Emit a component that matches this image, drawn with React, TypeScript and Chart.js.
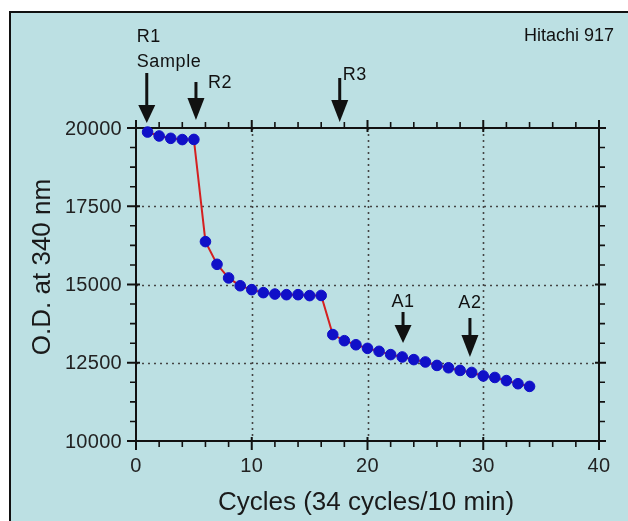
import React, { useEffect, useRef } from "react";
import { Chart, registerables } from "chart.js";

Chart.register(...registerables);

const cycles = [1, 2, 3, 4, 5, 6, 7, 8, 9, 10, 11, 12, 13, 14, 15, 16, 17, 18, 19, 20, 21, 22, 23, 24, 25, 26, 27, 28, 29, 30, 31, 32, 33, 34];
const odValues = [19870, 19745, 19670, 19630, 19635, 16370, 15645, 15210, 14960, 14835, 14740, 14695, 14675, 14675, 14645, 14650, 13400, 13205, 13075, 12960, 12865, 12760, 12685, 12600, 12525, 12415, 12340, 12255, 12190, 12080, 12030, 11930, 11830, 11745];
const xTicks = [0, 10, 20, 30, 40];
const yTicks = [10000, 12500, 15000, 17500, 20000];
const xMinorStep = 2;
const yMinorStep = 625;
const xTitle = "Cycles (34 cycles/10 min)";
const yTitle = "O.D. at 340 nm";
const instrument = "Hitachi 917";
const markerLabels = [["R1", "Sample"], ["R2"], ["R3"], ["A1"], ["A2"]];
const markerCycles = [0.93, 5.18, 17.6, 23.07, 28.85];
const markerTipValues = [20160, 20256, 20192, 13131, 12684];

const FONT = "'Liberation Sans', Arial, sans-serif";
const BG = "#bce0e3";

export default function App() {
  const ref = useRef<HTMLCanvasElement>(null);

  useEffect(() => {
    document.body.style.margin = "0";
    const canvas = ref.current;
    if (!canvas) return;

    const markerStyles = [
      { total: 50, head: 18, width: 17, labelDx: -10, labelDy: [-36, -11], align: "left" },
      { total: 38, head: 22, width: 17, labelDx: 12, labelDy: [1], align: "left" },
      { total: 44, head: 22, width: 17, labelDx: 3, labelDy: [-3], align: "left" },
      { total: 31, head: 18, width: 17, labelDx: 0, labelDy: [-10], align: "center" },
      { total: 39, head: 22, width: 17, labelDx: 0, labelDy: [-15], align: "center" },
    ];

    const deco = {
      id: "deco",
      beforeDraw(chart: any) {
        const ctx = chart.ctx as CanvasRenderingContext2D;
        const w = chart.width, h = chart.height;
        ctx.save();
        ctx.fillStyle = "#ffffff";
        ctx.fillRect(0, 0, w, h);
        ctx.fillStyle = BG;
        ctx.fillRect(10, 12, w - 10, h - 12);
        ctx.strokeStyle = "#111";
        ctx.lineWidth = 2;
        ctx.beginPath();
        ctx.moveTo(10, h);
        ctx.lineTo(10, 12);
        ctx.lineTo(w, 12);
        ctx.stroke();
        ctx.restore();
      },
      beforeDatasetsDraw(chart: any) {
        const ctx = chart.ctx as CanvasRenderingContext2D;
        const xs = chart.scales.x, ys = chart.scales.y;
        const L = xs.getPixelForValue(0), R = xs.getPixelForValue(40);
        const T = ys.getPixelForValue(20000), B = ys.getPixelForValue(10000);
        ctx.save();
        ctx.strokeStyle = "#444";
        ctx.lineWidth = 1.6;
        ctx.setLineDash([2, 4]);
        ctx.beginPath();
        for (const t of xTicks) {
          if (t === 0 || t === 40) continue;
          const px = Math.round(xs.getPixelForValue(t)) + 0.5;
          ctx.moveTo(px, T);
          ctx.lineTo(px, B);
        }
        for (const t of yTicks) {
          if (t === 10000 || t === 20000) continue;
          const py = Math.round(ys.getPixelForValue(t)) + 0.5;
          ctx.moveTo(L, py);
          ctx.lineTo(R, py);
        }
        ctx.stroke();
        ctx.setLineDash([]);
        ctx.strokeStyle = "#111";
        ctx.lineWidth = 2;
        ctx.beginPath();
        ctx.moveTo(L - 9, T); ctx.lineTo(R + 7, T);
        ctx.moveTo(L - 9, B); ctx.lineTo(R + 7, B);
        ctx.moveTo(L, T - 8); ctx.lineTo(L, B + 9);
        ctx.moveTo(R, T - 8); ctx.lineTo(R, B + 9);
        ctx.stroke();
        ctx.beginPath();
        for (const t of xTicks) {
          const px = xs.getPixelForValue(t);
          ctx.moveTo(px, T - 8); ctx.lineTo(px, T + 4);
          ctx.moveTo(px, B - 4); ctx.lineTo(px, B + 9);
        }
        for (const t of yTicks) {
          const py = ys.getPixelForValue(t);
          ctx.moveTo(L - 9, py); ctx.lineTo(L + 4, py);
          ctx.moveTo(R - 4, py); ctx.lineTo(R + 7, py);
        }
        ctx.stroke();
        ctx.lineWidth = 1.6;
        ctx.beginPath();
        for (let v = 0; v <= 40; v += xMinorStep) {
          if (v % 10 === 0) continue;
          const px = xs.getPixelForValue(v);
          ctx.moveTo(px, T); ctx.lineTo(px, T - 6);
          ctx.moveTo(px, B); ctx.lineTo(px, B + 6);
        }
        for (let v = 10000; v <= 20000; v += yMinorStep) {
          if ((v - 10000) % 2500 === 0) continue;
          const py = ys.getPixelForValue(v);
          ctx.moveTo(L, py); ctx.lineTo(L - 6, py);
          ctx.moveTo(R, py); ctx.lineTo(R + 6, py);
        }
        ctx.stroke();
        ctx.fillStyle = "#222";
        ctx.font = `20px ${FONT}`;
        (ctx as any).letterSpacing = "0.3px";
        ctx.textAlign = "center";
        ctx.textBaseline = "middle";
        for (const t of xTicks) {
          ctx.fillText(String(t), xs.getPixelForValue(t), B + 25);
        }
        ctx.textAlign = "right";
        for (const t of yTicks) {
          ctx.fillText(String(t), L - 14, ys.getPixelForValue(t) + 1);
        }
        (ctx as any).letterSpacing = "0px";
        ctx.font = `26px ${FONT}`;
        ctx.textAlign = "center";
        ctx.fillStyle = "#1a1a1a";
        ctx.fillText(xTitle, 366, 503);
        ctx.save();
        ctx.translate(43, 267);
        ctx.rotate(-Math.PI / 2);
        ctx.fillText(yTitle, 0, 0);
        ctx.restore();
        ctx.restore();
      },
      afterDatasetsDraw(chart: any) {
        const ctx = chart.ctx as CanvasRenderingContext2D;
        const xs = chart.scales.x, ys = chart.scales.y;
        ctx.save();
        ctx.fillStyle = "#111";
        ctx.strokeStyle = "#111";
        ctx.font = `18px ${FONT}`;
        ctx.textBaseline = "middle";
        markerLabels.forEach((lines, i) => {
          const st = markerStyles[i];
          const x = xs.getPixelForValue(markerCycles[i]);
          const tip = ys.getPixelForValue(markerTipValues[i]);
          const top = tip - st.total;
          const headTop = tip - st.head;
          ctx.lineWidth = 3;
          ctx.beginPath();
          ctx.moveTo(x, top);
          ctx.lineTo(x, headTop + 1);
          ctx.stroke();
          ctx.beginPath();
          ctx.moveTo(x - st.width / 2, headTop);
          ctx.lineTo(x + st.width / 2, headTop);
          ctx.lineTo(x, tip);
          ctx.closePath();
          ctx.fill();
          ctx.textAlign = st.align as CanvasTextAlign;
          (ctx as any).letterSpacing = "0.6px";
          lines.forEach((ln, j) => {
            ctx.fillText(ln, x + st.labelDx, top + st.labelDy[j]);
          });
        });
        (ctx as any).letterSpacing = "0px";
        ctx.textAlign = "right";
        ctx.fillText(instrument, 614, 36);
        ctx.restore();
      },
    };

    const chart = new Chart(canvas, {
      type: "line",
      data: {
        datasets: [
          {
            data: cycles.map((c, i) => ({ x: c, y: odValues[i] })),
            borderColor: "#d42020",
            borderWidth: 2,
            pointBackgroundColor: "#1010c8",
            pointBorderColor: "#1010c8",
            pointBorderWidth: 1,
            pointRadius: 5.3,
            tension: 0,
            clip: false as any,
          },
        ],
      },
      options: {
        animation: false,
        responsive: false,
        devicePixelRatio: 1,
        layout: { padding: { left: 136, right: 29, top: 128, bottom: 80 } },
        plugins: { legend: { display: false }, tooltip: { enabled: false } },
        scales: {
          x: { type: "linear", min: 0, max: 40, display: false },
          y: { type: "linear", min: 10000, max: 20000, display: false },
        },
      },
      plugins: [deco],
    });
    return () => chart.destroy();
  }, []);

  return <canvas ref={ref} width={628} height={521} style={{ display: "block" }} />;
}
